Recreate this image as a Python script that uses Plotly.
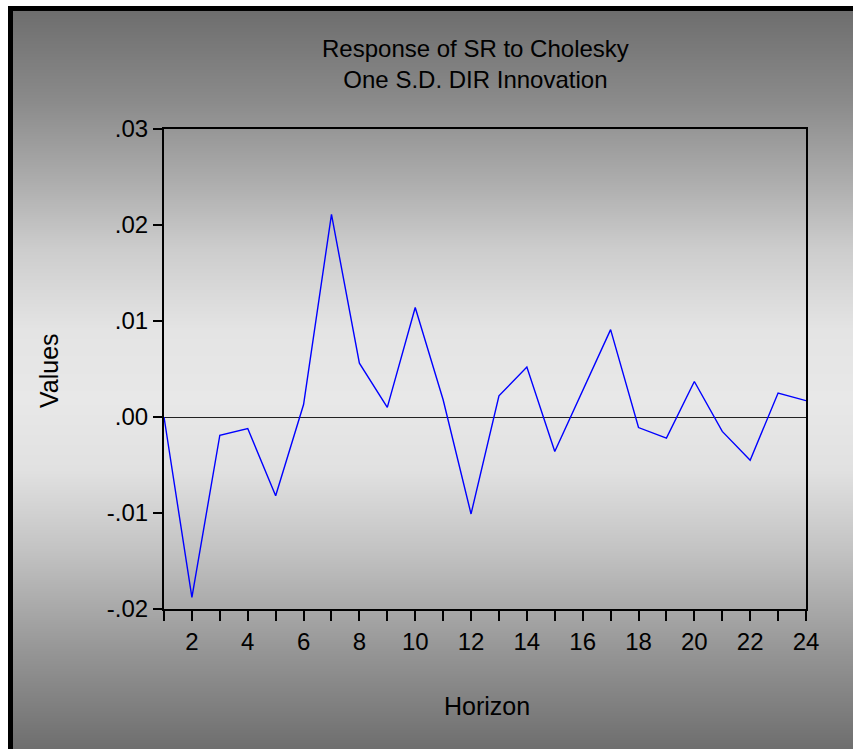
import base64, struct, zlib
import numpy as np
import plotly.graph_objects as go

# ---------------- data ----------------
horizon = list(range(1, 25))
response = [0.0000, -0.0188, -0.0019, -0.0012, -0.0082, 0.0013, 0.0211, 0.0056,
            0.0010, 0.0114, 0.0018, -0.0101, 0.0022, 0.0052, -0.0036, 0.0027,
            0.0091, -0.0011, -0.0022, 0.0037, -0.0015, -0.0045, 0.0025, 0.0017]
y_tickvals = [-0.02, -0.01, 0.0, 0.01, 0.02, 0.03]
y_ticktext = ['-.02', '-.01', '.00', '.01', '.02', '.03']
x_tickvals = list(range(1, 25))
x_ticktext = [str(v) if v % 2 == 0 else '' for v in x_tickvals]

# ---------------- geometry ----------------
W, H = 853, 749
L, R, T, B = 164, 806, 129, 609   # plot area in pixels
pw, ph = R - L, B - T

def px_x(p):
    return (p - L) / pw

def px_y(p):
    return (B - p) / ph

# ---------------- gradient background image ----------------
stops_y = [11, 100, 180, 250, 330, 400, 470, 550, 650, 749]
stops_v = [110, 138, 172, 205, 228, 232, 225, 195, 150, 110]
gh = H - 11
vals = np.interp(np.arange(11, H) + 0.5, stops_y, stops_v).round().astype(np.uint8)

def png_gray(col):
    raw = b''.join(b'\x00' + bytes([int(v)]) for v in col)
    def chunk(tag, data):
        c = struct.pack('>I', len(data)) + tag + data
        return c + struct.pack('>I', zlib.crc32(tag + data) & 0xffffffff)
    ihdr = struct.pack('>IIBBBBB', 1, len(col), 8, 0, 0, 0, 0)
    return (b'\x89PNG\r\n\x1a\n' + chunk(b'IHDR', ihdr) +
            chunk(b'IDAT', zlib.compress(raw, 9)) + chunk(b'IEND', b''))

src = 'data:image/png;base64,' + base64.b64encode(png_gray(vals)).decode()

fig = go.Figure()
fig.add_trace(go.Scatter(x=horizon, y=response, mode='lines',
                         line=dict(color='#0000ff', width=1.4),
                         hoverinfo='skip', showlegend=False))

fig.add_layout_image(dict(source=src, xref='paper', yref='paper',
                          x=px_x(13), y=px_y(11), sizex=(W - 13) / pw, sizey=gh / ph,
                          xanchor='left', yanchor='top', sizing='stretch', layer='below'))

shapes = [
    dict(type='rect', xref='paper', yref='paper', x0=px_x(8), x1=px_x(W + 2),
         y0=px_y(6), y1=px_y(11), fillcolor='black', line_width=0, layer='below'),
    dict(type='rect', xref='paper', yref='paper', x0=px_x(8), x1=px_x(13),
         y0=px_y(6), y1=px_y(H + 2), fillcolor='black', line_width=0, layer='below'),
]

fam = 'Liberation Sans, Arial, sans-serif'
tickfont = dict(family=fam, size=24, color='#000000')
labfont = dict(family=fam, size=25, color='#000000')

annotations = [
    dict(text='Response of SR to Cholesky<br>One S.D. DIR Innovation', xref='paper', yref='paper',
         x=px_x(475), y=px_y(64), xanchor='center', yanchor='middle', showarrow=False,
         font=dict(family=fam, size=24, color='#000000')),
    dict(text='Horizon', xref='paper', yref='paper', x=px_x(487), y=px_y(706),
         xanchor='center', yanchor='middle', showarrow=False, font=labfont),
    dict(text='Values', xref='paper', yref='paper', x=px_x(49), y=px_y(371),
         xanchor='center', yanchor='middle', showarrow=False, textangle=-90, font=labfont),
]

fig.update_layout(
    width=W, height=H,
    margin=dict(l=L, r=W - R, t=T, b=H - B, pad=0),
    paper_bgcolor='white', plot_bgcolor='rgba(0,0,0,0)',
    shapes=shapes, annotations=annotations, font=tickfont,
    xaxis=dict(range=[1, 24], tickvals=x_tickvals, ticktext=x_ticktext,
               ticks='outside', ticklen=10, tickwidth=1.5, tickcolor='black',
               showline=True, linecolor='black', linewidth=2, mirror=True,
               showgrid=False, zeroline=False, tickfont=tickfont),
    yaxis=dict(range=[-0.02, 0.03], tickvals=y_tickvals, ticktext=y_ticktext,
               ticks='outside', ticklen=9, tickwidth=1.5, tickcolor='black',
               showline=True, linecolor='black', linewidth=2, mirror=True,
               showgrid=False, zeroline=True, zerolinecolor='#222222', zerolinewidth=1.3,
               tickfont=tickfont),
)

fig.write_html('out.html')
